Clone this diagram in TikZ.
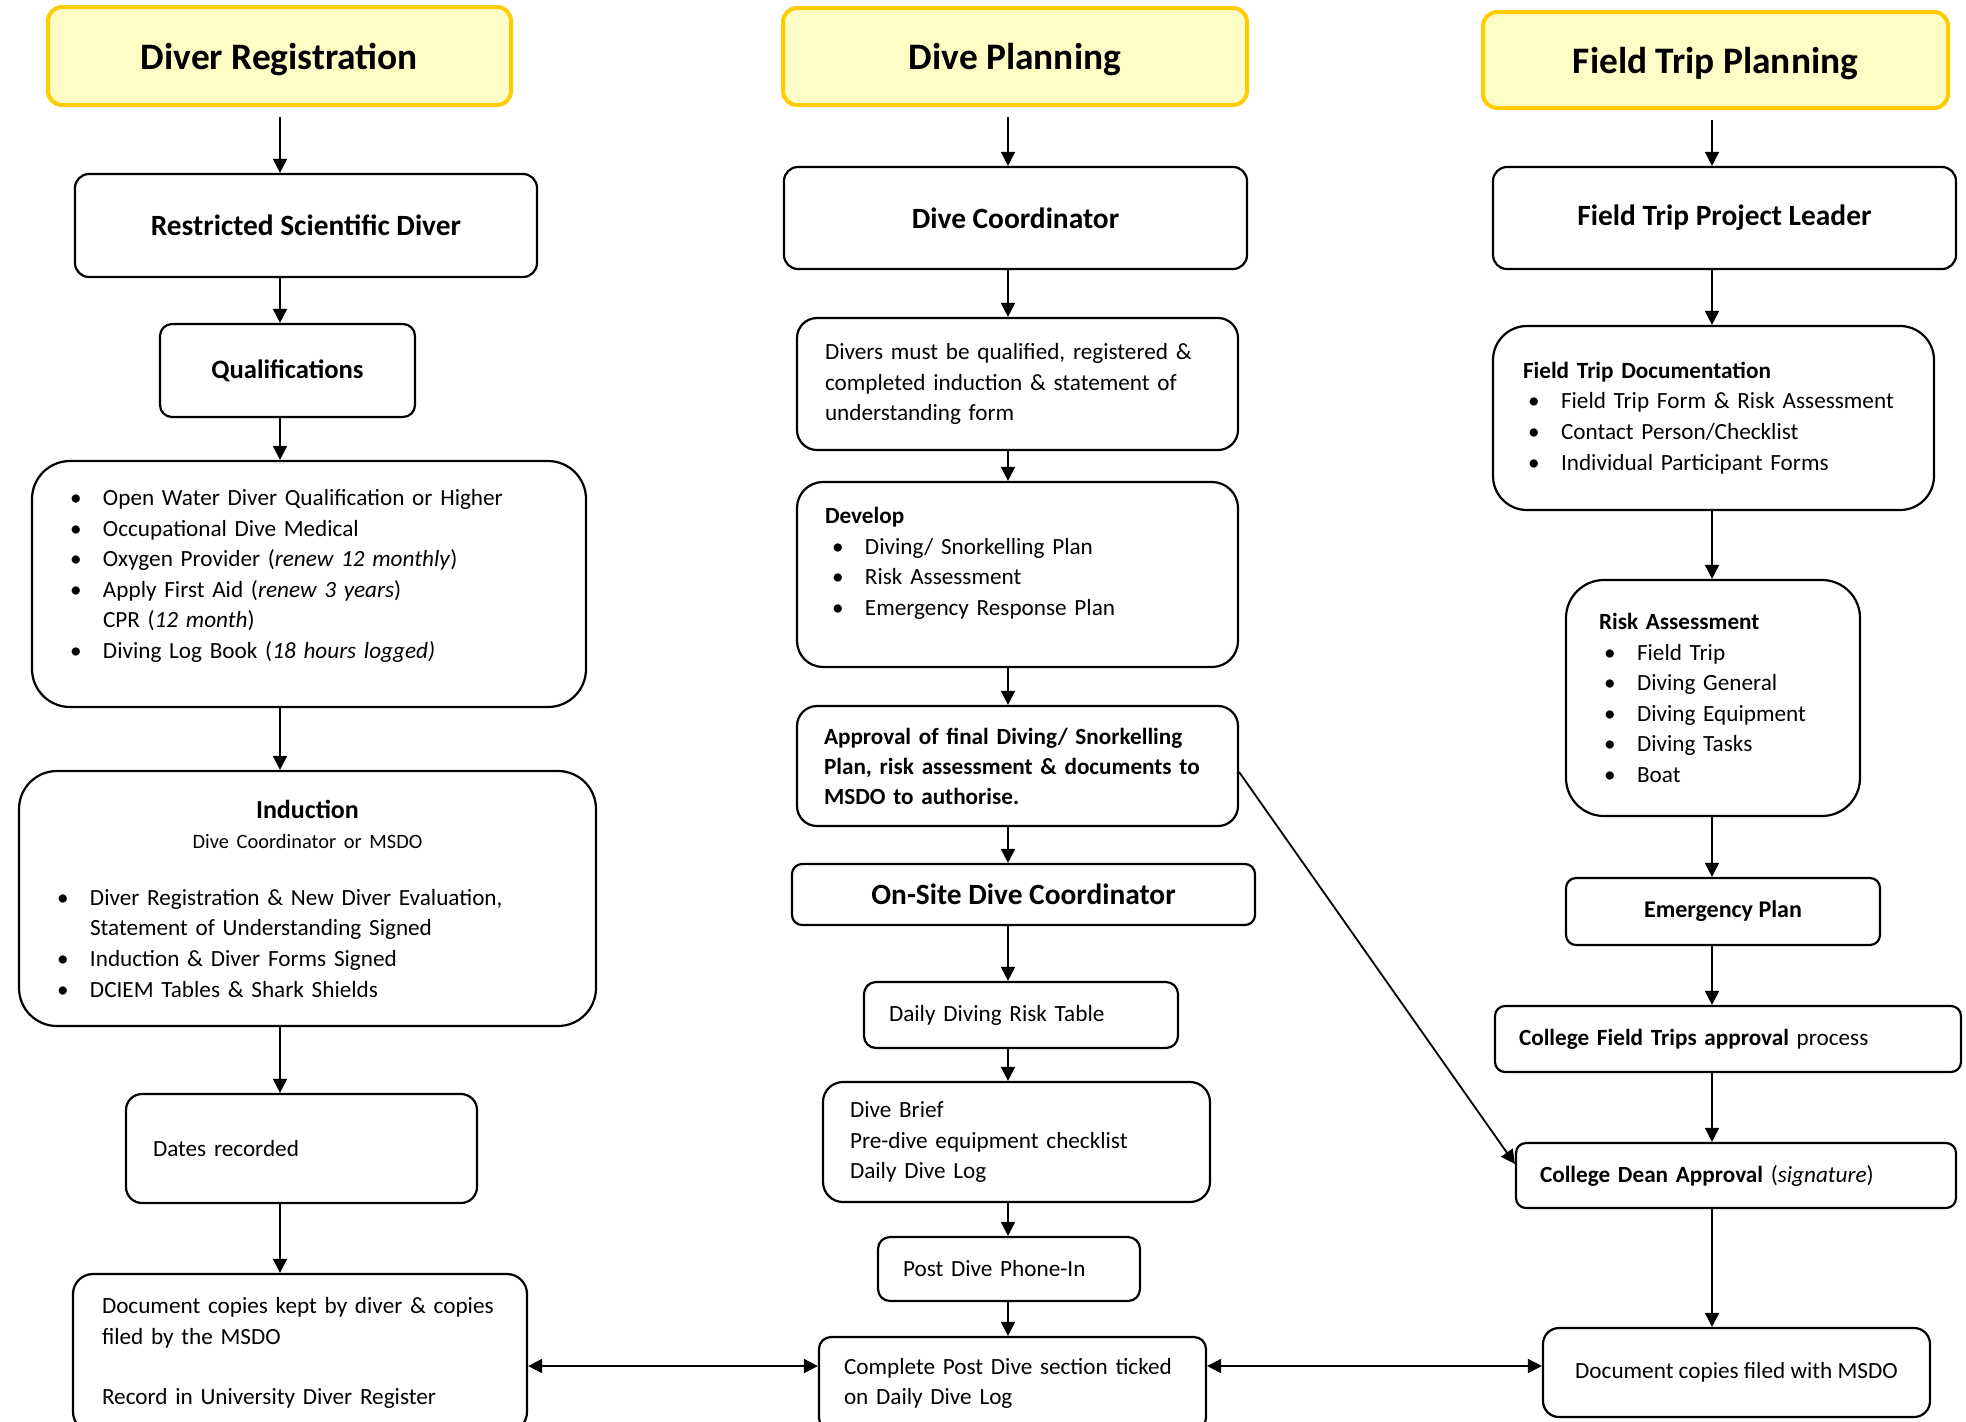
\documentclass[tikz,border=0pt]{standalone}
\usepackage{fontspec}
\setmainfont{Carlito}
\usetikzlibrary{arrows.meta,positioning}
\definecolor{hdrfill}{HTML}{FFFDC6}
\definecolor{hdrgold}{HTML}{FFCC00}
\tikzset{
  header/.style={draw=hdrgold, fill=hdrfill, line width=2pt, rounded corners=7pt,
    text depth=0pt, font=\fontsize{18.7}{22}\selectfont\bfseries},
  box/.style={draw=black, fill=white, line width=1.1pt, rounded corners=6pt,
    font=\fontsize{11.6}{15.3}\selectfont, inner ysep=0pt},
  midbox/.style={box, rounded corners=10pt},
  bigbox/.style={box, rounded corners=19pt},
  lead/.style={box, rounded corners=7pt, font=\fontsize{14.7}{17}\selectfont\bfseries},
  sub/.style={box, font=\fontsize{13.3}{16}\selectfont\bfseries},
  arrow/.style={-{Triangle[length=7pt,width=7pt]}, line width=0.9pt},
  twoway/.style={{Triangle[length=7pt,width=7pt]}-{Triangle[length=7pt,width=7pt]},
    line width=0.9pt},
}
\newcommand{\dotitem}[1]{\makebox[16.5pt][l]{\textbullet}#1}

\begin{document}
\begin{tikzpicture}[x=0.5pt, y=-0.5pt]
\useasboundingbox (0,0) rectangle (1966,1421);

% ---- diver registration ----------------------------------------------
\node[header, minimum width=231.5pt, minimum height=49pt] (regHead) at (279.5,56) {Diver Registration};
\node[lead, minimum width=231pt, minimum height=51.5pt] (rsd) at (306,225.5) {Restricted Scientific Diver};
\node[sub, minimum width=127.5pt, minimum height=46.5pt] (qual) at (287.5,370.5) {Qualifications};
\node[bigbox, minimum width=277pt, minimum height=123pt, text width=239pt, inner xsep=19pt,
  align=left] (qualList) at (309,584) {%
  \dotitem{Open Water Diver Qualification or Higher}\\
  \dotitem{Occupational Dive Medical}\\
  \dotitem{Oxygen Provider (\textit{renew 12 monthly})}\\
  \dotitem{Apply First Aid (\textit{renew 3 years})}\\
  \hspace*{16.5pt}CPR (\textit{12 month})\\
  \dotitem{Diving Log Book (\textit{18 hours logged)}}\rule[-10pt]{0pt}{10pt}};
\node[bigbox, minimum width=288.5pt, minimum height=127.5pt, text width=250.5pt, inner xsep=19pt,
  align=left] (induct) at (307.5,898.5) {%
  \makebox[\linewidth]{\fontsize{13}{16}\selectfont\bfseries Induction}\\
  \makebox[\linewidth]{\fontsize{10.2}{14}\selectfont Dive Coordinator or MSDO}\\[13pt]
  \dotitem{Diver Registration \& New Diver Evaluation,}\\
  \hspace*{16.5pt}Statement of Understanding Signed\\
  \dotitem{Induction \& Diver Forms Signed}\\
  \dotitem{DCIEM Tables \& Shark Shields}};
\node[box, rounded corners=8pt, minimum width=175.5pt, minimum height=54.5pt, text width=148.5pt,
  inner xsep=13.5pt, align=left] (dates) at (301.5,1148.5) {Dates recorded};
\node[midbox, minimum width=227pt, minimum height=79pt, text width=198pt, inner xsep=14.5pt,
  align=left] (docCopies) at (300,1353) {%
  Document copies kept by diver \& copies\\
  filed by the MSDO\\[15pt]
  Record in University Diver Register};

% ---- dive planning ---------------------------------------------------
\node[header, minimum width=232pt, minimum height=48.5pt] (planHead) at (1015,56.5) {Dive Planning};
\node[lead, minimum width=231.5pt, minimum height=51pt] (coord) at (1015.5,218) {Dive Coordinator};
\node[midbox, minimum width=220.5pt, minimum height=66pt, text width=192.5pt, inner xsep=14pt,
  align=left] (divers) at (1017.5,384) {%
  Divers must be qualified, registered \&\\
  completed induction \& statement of\\
  understanding form};
\node[midbox, rounded corners=13pt, minimum width=220.5pt, minimum height=92.5pt, text width=192.5pt,
  inner xsep=14pt, align=left] (develop) at (1017.5,574.5) {%
  \textbf{Develop}\\
  \hspace*{3.5pt}\dotitem{Diving/ Snorkelling Plan}\\
  \hspace*{3.5pt}\dotitem{Risk Assessment}\\
  \hspace*{3.5pt}\dotitem{Emergency Response Plan}\rule[-13pt]{0pt}{13pt}};
\node[midbox, minimum width=220.5pt, minimum height=60pt, text width=193.5pt, inner xsep=13.5pt,
  align=left, font=\fontsize{11.6}{15}\selectfont\bfseries] (approval) at (1017.5,766) {%
  Approval of final Diving/ Snorkelling\\
  Plan, risk assessment \& documents to\\
  MSDO to authorise.};
\node[lead, rounded corners=5pt, minimum width=231.5pt, minimum height=30.5pt] (onSite) at (1023.5,894.5)
  {On-Site Dive Coordinator};
\node[box, minimum width=157pt, minimum height=33pt, text width=132pt, inner xsep=12.5pt,
  align=left] (riskTable) at (1021,1015) {Daily Diving Risk Table};
\node[midbox, minimum width=193.5pt, minimum height=60pt, text width=166.5pt, inner xsep=13.5pt,
  align=left] (brief) at (1016.5,1142) {%
  Dive Brief\\
  Pre-dive equipment checklist\\
  Daily Dive Log};
\node[box, minimum width=131pt, minimum height=32pt, text width=106pt, inner xsep=12.5pt,
  align=left] (phoneIn) at (1009,1269) {Post Dive Phone-In};
\node[box, minimum width=193.5pt, minimum height=46.5pt, text width=168.5pt, inner xsep=12.5pt,
  align=left] (complete) at (1012.5,1383.5) {%
  Complete Post Dive section ticked\\
  on Daily Dive Log};

% ---- field trip planning ---------------------------------------------
\node[header, minimum width=232.5pt, minimum height=48pt] (tripHead) at (1715.5,60) {Field Trip Planning};
\node[lead, minimum width=231.5pt, minimum height=51pt] (leader) at (1724.5,218) {Field Trip Project Leader};
\node[bigbox, rounded corners=17pt, minimum width=220.5pt, minimum height=92pt, text width=190.5pt,
  inner xsep=15pt, align=left] (tripDocs) at (1713.5,418) {%
  \textbf{Field Trip Documentation}\\
  \hspace*{2.5pt}\dotitem{Field Trip Form \& Risk Assessment}\\
  \hspace*{2.5pt}\dotitem{Contact Person/Checklist}\\
  \hspace*{2.5pt}\dotitem{Individual Participant Forms}};
\node[bigbox, minimum width=147pt, minimum height=118pt, text width=114pt, inner xsep=16.5pt,
  align=left] (riskAss) at (1713,698) {%
  \textbf{Risk Assessment}\\
  \hspace*{2.5pt}\dotitem{Field Trip}\\
  \hspace*{2.5pt}\dotitem{Diving General}\\
  \hspace*{2.5pt}\dotitem{Diving Equipment}\\
  \hspace*{2.5pt}\dotitem{Diving Tasks}\\
  \hspace*{2.5pt}\dotitem{Boat}};
\node[sub, rounded corners=5pt, minimum width=157pt, minimum height=33.5pt,
  font=\fontsize{12}{15}\selectfont\bfseries] (emerg) at (1723,911.5) {Emergency Plan};
\node[box, rounded corners=5pt, minimum width=233pt, minimum height=33pt, text width=209pt, inner xsep=12pt,
  align=left] (collegeTrips) at (1728,1039) {\textbf{College Field Trips approval} process};
\node[box, rounded corners=5pt, minimum width=220pt, minimum height=32.5pt, text width=196pt, inner xsep=12pt,
  align=left] (dean) at (1736,1175.5) {\textbf{College Dean Approval} (\textit{signature})};
\node[midbox, rounded corners=8pt, minimum width=193.5pt, minimum height=44.5pt] (filed) at (1736.5,1372.5)
  {Document copies filed with MSDO};

% ---- connectors ------------------------------------------------------
\coordinate (regAxis) at (280,0);
\coordinate (planAxis) at (1008,0);
\coordinate (tripAxis) at (1712,0);

\draw[arrow, shorten <=5pt] (regHead.south -| regAxis) -- (rsd.north -| regAxis);
\draw[arrow] (rsd.south -| regAxis) -- (qual.north -| regAxis);
\draw[arrow] (qual.south -| regAxis) -- (qualList.north -| regAxis);
\draw[arrow] (qualList.south -| regAxis) -- (induct.north -| regAxis);
\draw[arrow] (induct.south -| regAxis) -- (dates.north -| regAxis);
\draw[arrow] (dates.south -| regAxis) -- (docCopies.north -| regAxis);

\draw[arrow, shorten <=5pt] (planHead.south -| planAxis) -- (coord.north -| planAxis);
\draw[arrow] (coord.south -| planAxis) -- (divers.north -| planAxis);
\draw[arrow] (divers.south -| planAxis) -- (develop.north -| planAxis);
\draw[arrow] (develop.south -| planAxis) -- (approval.north -| planAxis);
\draw[arrow] (approval.south -| planAxis) -- (onSite.north -| planAxis);
\draw[arrow] (onSite.south -| planAxis) -- (riskTable.north -| planAxis);
\draw[arrow] (riskTable.south -| planAxis) -- (brief.north -| planAxis);
\draw[arrow] (brief.south -| planAxis) -- (phoneIn.north -| planAxis);
\draw[arrow] (phoneIn.south -| planAxis) -- (complete.north -| planAxis);

\draw[arrow, shorten <=5pt] (tripHead.south -| tripAxis) -- (leader.north -| tripAxis);
\draw[arrow] (leader.south -| tripAxis) -- (tripDocs.north -| tripAxis);
\draw[arrow] (tripDocs.south -| tripAxis) -- (riskAss.north -| tripAxis);
\draw[arrow] (riskAss.south -| tripAxis) -- (emerg.north -| tripAxis);
\draw[arrow] (emerg.south -| tripAxis) -- (collegeTrips.north -| tripAxis);
\draw[arrow] (collegeTrips.south -| tripAxis) -- (dean.north -| tripAxis);
\draw[arrow] (dean.south -| tripAxis) -- (filed.north -| tripAxis);

\draw[arrow] ([yshift=-3pt]approval.east) -- ([yshift=5.75pt]dean.west);

\coordinate (link) at ([yshift=8.75pt]complete.west);
\draw[twoway] (link -| docCopies.east) -- (link);
\draw[twoway] (link -| complete.east) -- (link -| filed.west);

\end{tikzpicture}
\end{document}
